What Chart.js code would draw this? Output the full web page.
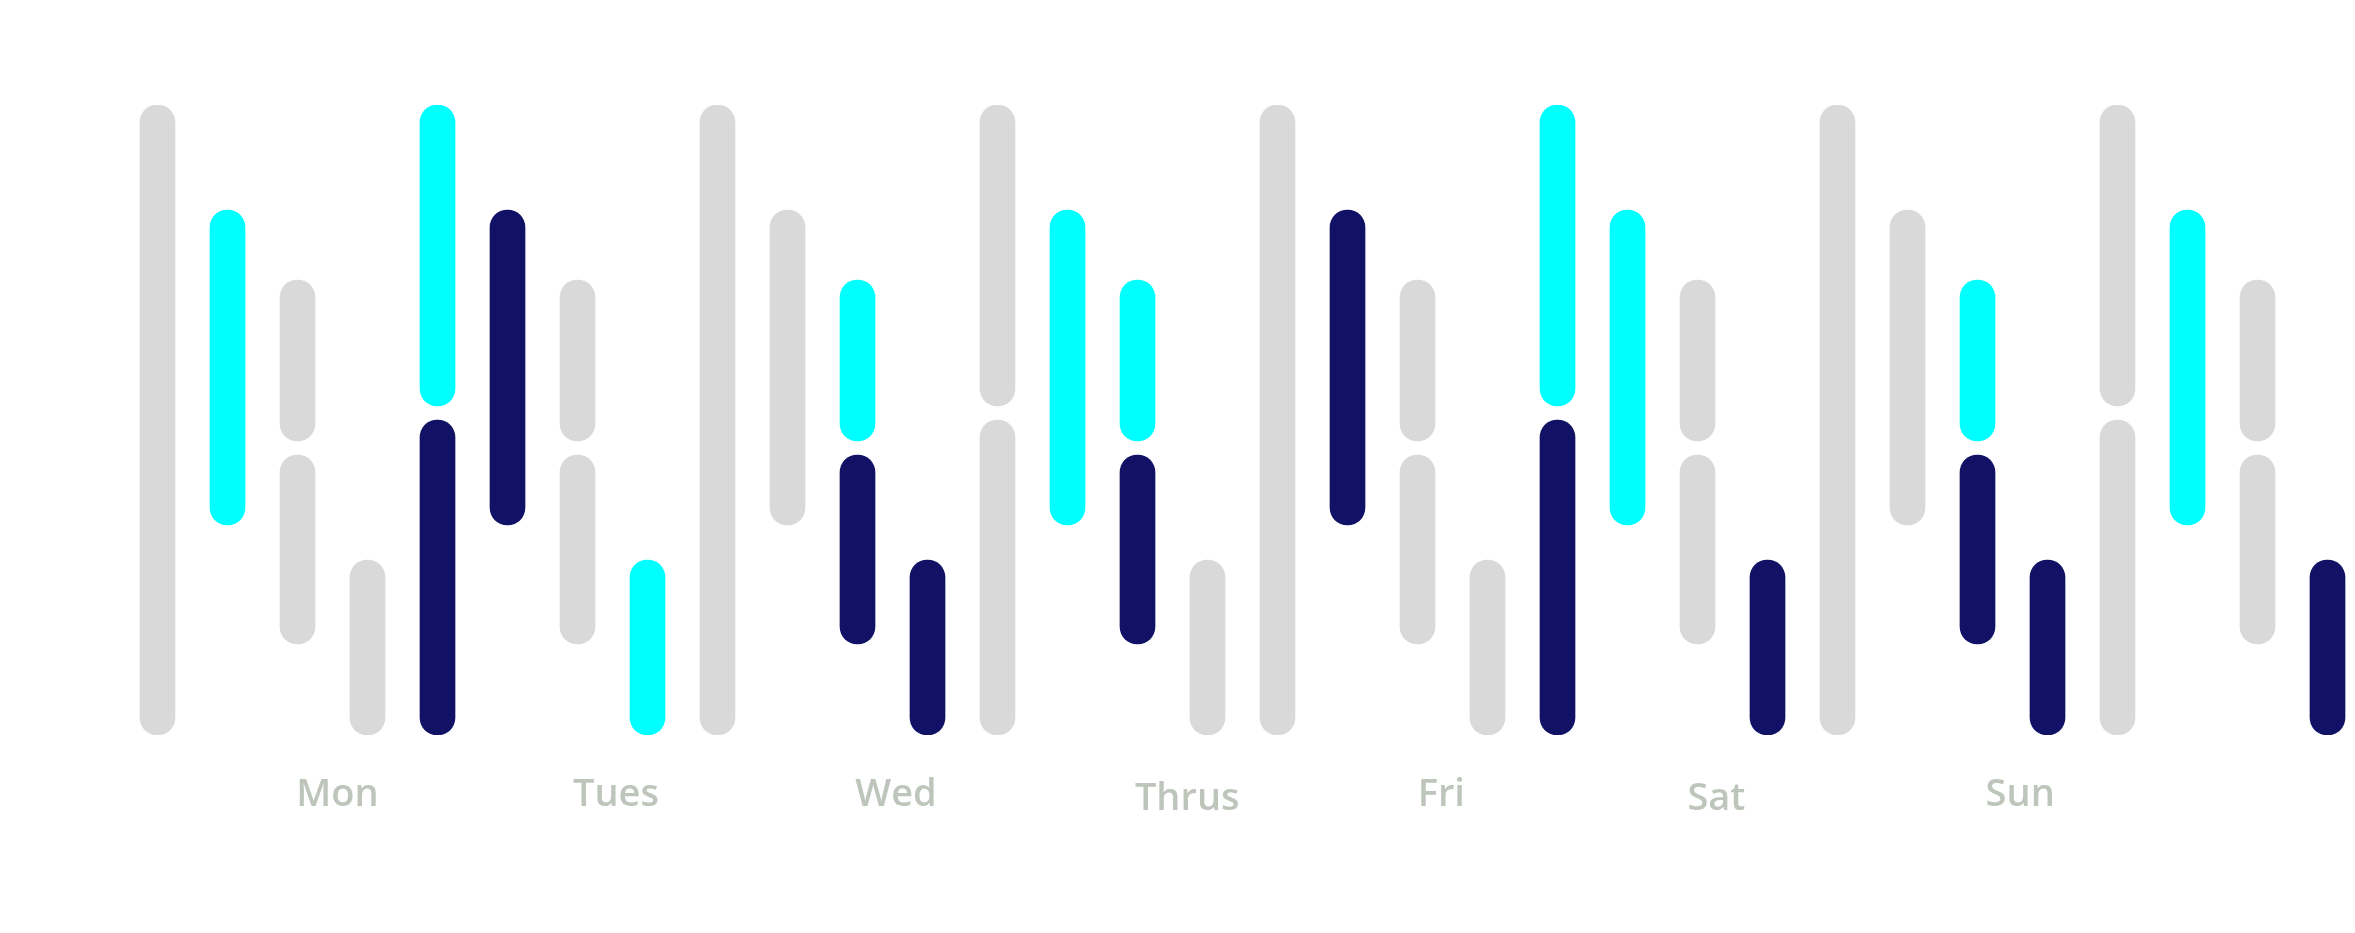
<!DOCTYPE html>
<html>
<head>
<meta charset="utf-8">
<script src="https://cdn.jsdelivr.net/npm/chart.js@4.4.1/dist/chart.umd.min.js"></script>
<style>
  body { margin: 0; background: #fff; }
  #wrap { width: 2355px; height: 933px; }
</style>
</head>
<body>
<div id="wrap"><canvas id="myChart"></canvas></div>
<script>
// day labels and where they sit along the column axis
const days = ['Mon', 'Tues', 'Wed', 'Thrus', 'Fri', 'Sat', 'Sun']
const dayPos = [2.57, 6.55, 10.55, 14.71, 18.34, 22.27, 26.61]

// segments: [column, from, to]
const graySegs = [
  [0, 0, 90], [2, 42, 65], [2, 13, 40], [3, 0, 25], [6, 42, 65], [6, 13, 40],
  [8, 0, 90], [9, 30, 75], [12, 47, 90], [12, 0, 45], [15, 0, 25], [16, 0, 90],
  [18, 42, 65], [18, 13, 40], [19, 0, 25], [22, 42, 65], [22, 13, 40], [24, 0, 90],
  [25, 30, 75], [28, 47, 90], [28, 0, 45], [30, 42, 65], [30, 13, 40]
]
const cyanSegs = [
  [1, 30, 75], [4, 47, 90], [7, 0, 25], [10, 42, 65], [13, 30, 75],
  [14, 42, 65], [20, 47, 90], [21, 30, 75], [26, 42, 65], [29, 30, 75]
]
const navySegs = [
  [4, 0, 45], [5, 30, 75], [10, 13, 40], [11, 0, 25], [14, 13, 40], [17, 30, 75],
  [20, 0, 45], [23, 0, 25], [26, 13, 40], [27, 0, 25], [31, 0, 25]
]

const toPoints = segs => segs.map(s => ({ x: s[0], y: [s[1], s[2]] }))

const barStyle = {
  barThickness: 35,
  borderRadius: 18,
  borderSkipped: false,
  grouped: false
}

const data = {
  datasets: [
    { label: 'gray', data: toPoints(graySegs), backgroundColor: '#d9d9d9', ...barStyle },
    { label: 'cyan', data: toPoints(cyanSegs), backgroundColor: '#00ffff', ...barStyle },
    { label: 'navy', data: toPoints(navySegs), backgroundColor: '#111166', ...barStyle }
  ]
}

const xMin = -2.25

const config = {
  type: 'bar',
  data: data,
  options: {
    responsive: true,
    maintainAspectRatio: false,
    animation: false,
    layout: { padding: { top: 105, left: 0, right: 0, bottom: 0 } },
    plugins: {
      legend: { display: false },
      tooltip: { enabled: false }
    },
    scales: {
      x: {
        type: 'linear',
        offset: false,
        bounds: 'data',
        min: xMin,
        max: xMin + 2355 / 70,
        grid: { display: false, drawTicks: false, offset: false },
        border: { display: false },
        afterBuildTicks: axis => { axis.ticks = dayPos.map(v => ({ value: v })) },
        afterFit: axis => { axis.height = 198 },
        ticks: {
          autoSkip: false,
          maxRotation: 0,
          padding: 37,
          color: '#bec6bc',
          font: ctx => ({
            family: "'Open Sans'",
            size: 38,
            weight: '600',
            // Thrus and Sat sit a touch lower in the original
            lineHeight: (days[ctx.index] === 'Thrus' || days[ctx.index] === 'Sat') ? 1.41 : 1.2
          }),
          callback: (value, index) => days[index]
        }
      },
      y: {
        display: false,
        min: 0,
        max: 90
      }
    }
  }
}

const myChart = new Chart(document.getElementById('myChart'), config)
</script>
</body>
</html>
